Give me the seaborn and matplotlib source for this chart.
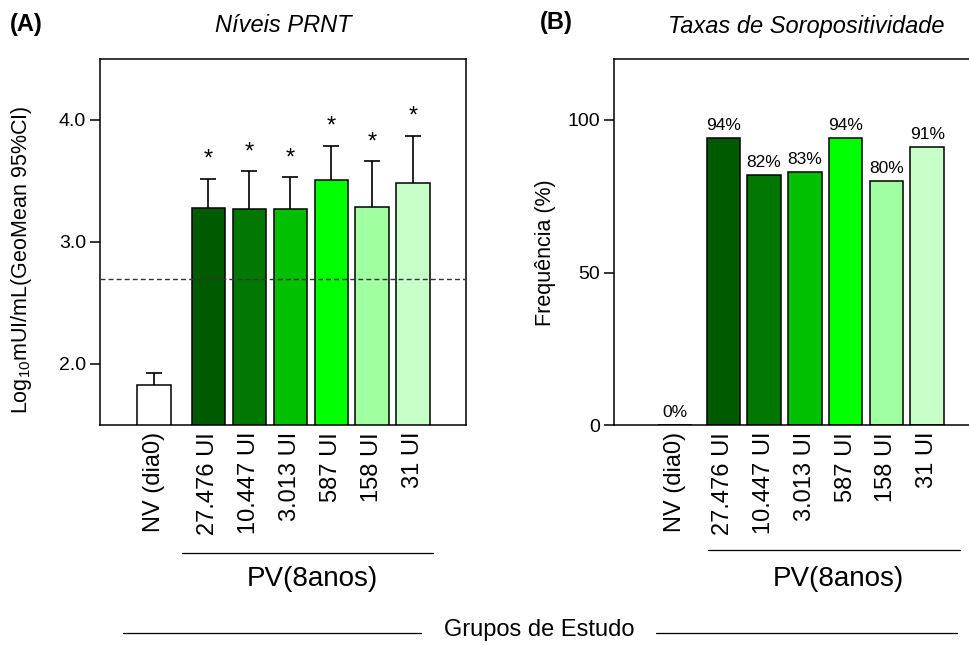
import numpy as np
import pandas as pd
import matplotlib
matplotlib.use("Agg")
import matplotlib.pyplot as plt
from matplotlib.lines import Line2D
import seaborn as sns

# ---------------- data ----------------
groups = ["NV (dia0)", "27.476 UI", "10.447 UI", "3.013 UI", "587 UI", "158 UI", "31 UI"]
prnt_geomean = [1.83, 3.28, 3.27, 3.27, 3.51, 3.29, 3.48]
prnt_upper = [1.93, 3.52, 3.58, 3.53, 3.79, 3.66, 3.87]
significant = [False, True, True, True, True, True, True]
seropositivity = [0, 94, 82, 83, 94, 80, 91]
threshold = 2.70
colors = ["#FFFFFF", "#005A00", "#007800", "#00C000", "#00FF00", "#A0FFA0", "#C8FFC8"]
yticks_A = [2.0, 3.0, 4.0]
yticks_B = [0, 50, 100]

# ---------------- style ----------------
sns.set_theme(style="ticks")
plt.rcParams["font.family"] = ["Liberation Sans", "DejaVu Sans"]
plt.rcParams["mathtext.fontset"] = "custom"
plt.rcParams["mathtext.rm"] = "Liberation Sans"
plt.rcParams["mathtext.it"] = "Liberation Sans:italic"
plt.rcParams["mathtext.bf"] = "Liberation Sans:bold"
for key in ["text.color", "axes.labelcolor", "xtick.color", "ytick.color", "axes.edgecolor"]:
    plt.rcParams[key] = "black"

W, H = 970, 645
fig = plt.figure(figsize=(W / 100, H / 100), dpi=100)
axA = fig.add_axes([100 / W, 1 - 425 / H, 366 / W, 366 / H])
axB = fig.add_axes([614 / W, 1 - 425 / H, 358 / W, 366 / H])


def layout_positions(gap):
    return np.concatenate([[0.0], gap + np.arange(len(groups) - 1)])


def draw_bars(ax, pos, values):
    df = pd.DataFrame({"pos": pos, "grupo": groups, "val": values})
    sns.barplot(data=df, x="pos", y="val", hue="grupo", palette=colors,
                native_scale=True, width=0.82, saturation=1, errorbar=None,
                edgecolor="black", linewidth=1.1, legend=False, ax=ax)
    ax.set_xlabel("")
    ax.set_ylabel("")
    ax.set_xticks(pos)
    ax.set_xticklabels(groups, rotation=90, fontsize=17, va="top", ha="center",
                       color="black")
    ax.tick_params(axis="x", length=0, pad=5)
    ax.tick_params(axis="y", length=7, width=1.1, direction="out", pad=3,
                   labelsize=14, colors="black")
    for s in ax.spines.values():
        s.set_linewidth(1.1)
        s.set_color("black")


# ---------------- panel A ----------------
posA = layout_positions(1.33)
draw_bars(axA, posA, prnt_geomean)
upper_err = np.array(prnt_upper) - np.array(prnt_geomean)
eb = axA.errorbar(posA, prnt_geomean, yerr=[np.zeros(len(groups)), upper_err],
                  fmt="none", ecolor="black", elinewidth=1.2, capsize=6.1,
                  capthick=1.2, zorder=0.8)
eb[1][0].set_visible(False)
for x, u, sig in zip(posA, prnt_upper, significant):
    if sig:
        axA.annotate("*", (x, u), xytext=(0, 9.5), textcoords="offset points",
                     ha="center", va="baseline", fontsize=17, color="black")
axA.axhline(threshold, color="#333333", lw=1.0, ls=(0, (3.6, 2.2)), zorder=5)
axA.set_xlim(-1.32, 7.62)
axA.set_ylim(1.5, 4.5)
axA.set_yticks(yticks_A)
axA.set_yticklabels([f"{t:.1f}" for t in yticks_A])

# ---------------- panel B ----------------
posB = layout_positions(1.18)
draw_bars(axB, posB, seropositivity)
for x, v in zip(posB, seropositivity):
    axB.annotate(f"{v}%", (x, v), xytext=(0, 5.8), textcoords="offset points",
                 ha="center", va="baseline", fontsize=12.5, color="black")
axB.set_xlim(-1.5, 7.28)
axB.set_ylim(0, 120)
axB.set_yticks(yticks_B)
axB.set_yticklabels([str(t) for t in yticks_B])
axB.spines["right"].set_visible(False)

# ---------------- figure texts ----------------
fig.text(10 / W, 1 - 25 / H, "(A)", fontsize=17, fontweight="bold", ha="left", va="center")
fig.text(283 / W, 1 - 26 / H, "Níveis PRNT", fontsize=17, style="italic", ha="center", va="center")
fig.text(540 / W, 1 - 23 / H, "(B)", fontsize=17, fontweight="bold", ha="left", va="center")
fig.text(806 / W, 1 - 27 / H, "Taxas de Soropositividade", fontsize=17, style="italic",
         ha="center", va="center")

fig.text(22 / W, 1 - 260 / H, "Log$_{10}$mUI/mL(GeoMean 95%CI)", fontsize=15.5,
         rotation=90, ha="center", va="center")
fig.text(546 / W, 1 - 253 / H, "Frequência (%)", fontsize=15.5, rotation=90,
         ha="center", va="center")

# group brackets
fig.add_artist(Line2D([182 / W, 433 / W], [1 - 553 / H] * 2, color="black", lw=0.9))
fig.add_artist(Line2D([708 / W, 960 / W], [1 - 550 / H] * 2, color="black", lw=0.9))
fig.text(312 / W, 1 - 579 / H, "PV(8anos)", fontsize=20, ha="center", va="center")
fig.text(838 / W, 1 - 579 / H, "PV(8anos)", fontsize=20, ha="center", va="center")

fig.add_artist(Line2D([123 / W, 421 / W], [1 - 633 / H] * 2, color="black", lw=0.9))
fig.add_artist(Line2D([656 / W, 957 / W], [1 - 633 / H] * 2, color="black", lw=0.9))
fig.text(539 / W, 1 - 630 / H, "Grupos de Estudo", fontsize=17, ha="center", va="center")

fig.savefig("out.png", dpi=100)
